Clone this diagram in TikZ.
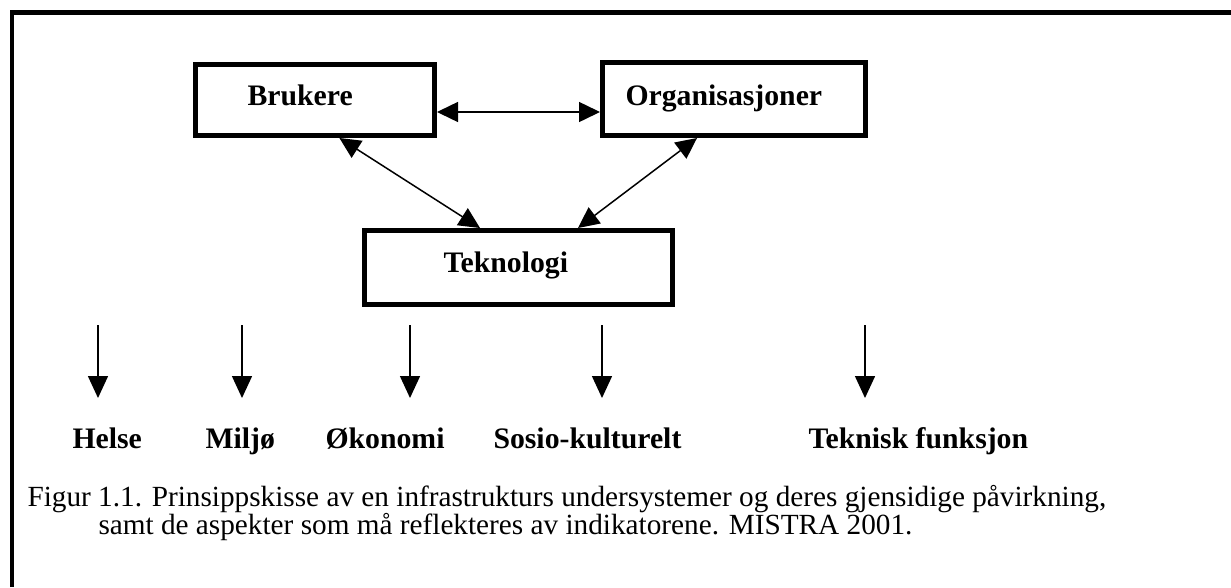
\documentclass[tikz,border=0pt]{standalone}
\usepackage{fontspec}
\setmainfont{Liberation Serif}
\usetikzlibrary{arrows.meta,calc}
\begin{document}
\begin{tikzpicture}[x=0.4pt,y=-0.4pt,
  frame/.style={line width=1.8pt},
  box/.style={draw, line width=2pt, inner sep=0pt},
  boxtext/.style={anchor=base west, inner sep=0pt, font=\fontsize{11.9}{14}\selectfont\bfseries},
  lbl/.style={anchor=base west, inner sep=0pt, font=\fontsize{11.9}{14}\selectfont\bfseries},
  captext/.style={anchor=base west, inner sep=0pt, font=\fontsize{11.7}{14}\selectfont},
  tipA/.tip={Triangle[length=8.4pt,width=8pt]},
  conn/.style={line width=0.6pt, tipA-tipA},
  down/.style={line width=0.6pt, -{Triangle[length=8.8pt,width=8pt]}}
]
\path[fill=white] (0,0) rectangle (1231,587);
\useasboundingbox (0,0) rectangle (1231,587);

% outer frame (open at right and bottom)
\draw[frame] (12,587) -- (12,12.5) -- (1231,12.5);

% boxes
\node[box, minimum width=95.6pt, minimum height=28.4pt] (bru) at (315,100) {};
\node[box, minimum width=105.2pt, minimum height=29.2pt] (org) at (734,99) {};
\node[box, minimum width=123.2pt, minimum height=29.6pt] (tek) at (518.5,267.5) {};

\node[boxtext] (brut) at (247,105) {Brukere};
\node[boxtext] (orgt) at (625,105) {Organisasjoner};
\node[boxtext] (tekt) at (443,272) {Teknologi};

% connectors between boxes
\coordinate (hy) at (0,112);
\draw[conn] (bru.east |- hy) -- (org.west |- hy);
\draw[conn] ($(bru.south west)!0.6!(bru.south east)$) -- ($(tek.north west)!0.377!(tek.north east)$);
\draw[conn] ($(org.south west)!0.362!(org.south east)$) -- ($(tek.north west)!0.69!(tek.north east)$);

% downward arrows
\foreach \n/\x in {1/98, 2/242, 3/410, 4/602, 5/865} {
  \coordinate (d\n s) at (\x,325);
  \coordinate (d\n e) at (\x,398);
  \draw[down] (d\n s) -- (d\n e);
}

% aspect labels
\node[lbl] (helse) at (72,448) {Helse};
\node[lbl] (miljo) at (205,448) {Miljø};
\node[lbl] (okon) at (325,448) {Økonomi};
\node[lbl] (sosio) at (493,448) {Sosio-kulturelt};
\node[lbl] (tekf) at (808,448) {Teknisk funksjon};

% caption
\node[captext] (cap1) at (27,506) {Figur 1.1. Prinsippskisse av en infrastrukturs undersystemer og deres gjensidige påvirkning,};
\node[captext] (cap2) at (98,534) {samt de aspekter som må reflekteres av indikatorene. MISTRA 2001.};
\end{tikzpicture}
\end{document}
